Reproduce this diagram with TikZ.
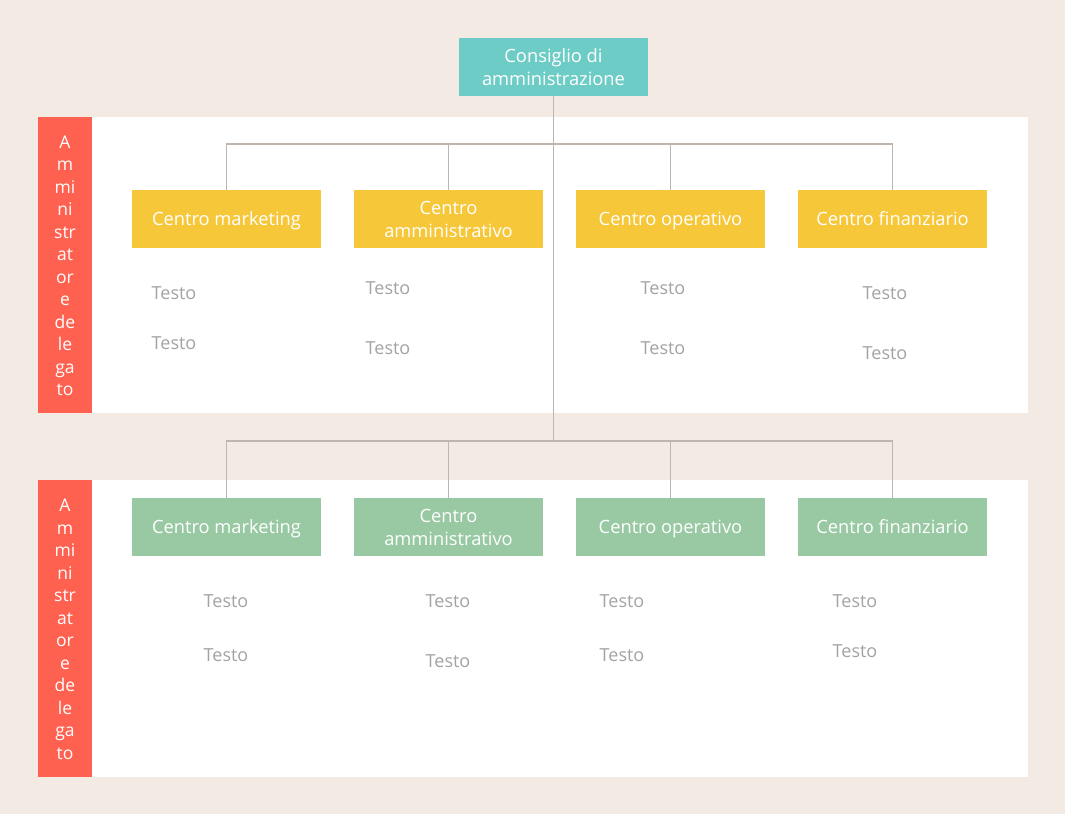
\documentclass[tikz,border=0pt]{standalone}
\usepackage{fontspec}
\setmainfont{Open Sans}
\definecolor{bg}{HTML}{F3EAE4}
\definecolor{redbar}{HTML}{FF6150}
\definecolor{teal}{HTML}{6DCDC6}
\definecolor{yel}{HTML}{F6C739}
\definecolor{grn}{HTML}{98C9A3}
\definecolor{lin}{HTML}{BDB5AE}
\definecolor{txtg}{HTML}{A3A3A3}
\newcommand{\st}{\rule[-4.5pt]{0pt}{22.5pt}}
\tikzset{
  box/.style={minimum width=189pt, minimum height=58pt, inner sep=0pt, text=white, align=center, font=\fontsize{18.3}{22.5}\selectfont},
  yelbox/.style={box, fill=yel},
  grnbox/.style={box, fill=grn},
  conn/.style={draw=lin, line width=1.5pt},
  testo/.style={text=txtg, font=\fontsize{18}{21}\selectfont, inner sep=0pt},
  sidetxt/.style={text=white, align=center, font=\fontsize{17.5}{22.5}\selectfont, inner sep=0pt},
}
\begin{document}
\begin{tikzpicture}[x=1pt,y=-1pt]
\fill[bg] (0,0) rectangle (1065,814);
\useasboundingbox (0,0) rectangle (1065,814);
% panels
\fill[white] (92,117) rectangle (1028,413);
\fill[white] (92,480) rectangle (1028,777);
\fill[redbar] (38,117) rectangle (92,413);
\fill[redbar] (38,480) rectangle (92,777);
\node[sidetxt] (s1) at (65,266) {A\\m\\mi\\ni\\str\\at\\or\\e\\de\\le\\ga\\to};
\node[sidetxt] (s2) at (65,629.5) {A\\m\\mi\\ni\\str\\at\\or\\e\\de\\le\\ga\\to};
% top node
\node[box, fill=teal] (root) at (553.5,67) {\st Consiglio di\\\st amministrazione};
% yellow
\node[yelbox] (y1) at (226.5,219) {\st Centro marketing};
\node[yelbox] (y2) at (448.5,219) {\st Centro\\\st amministrativo};
\node[yelbox] (y3) at (670.5,219) {\st Centro operativo};
\node[yelbox] (y4) at (892.5,219) {\st Centro finanziario};
% green
\node[grnbox] (g1) at (226.5,527) {\st Centro marketing};
\node[grnbox] (g2) at (448.5,527) {\st Centro\\\st amministrativo};
\node[grnbox] (g3) at (670.5,527) {\st Centro operativo};
\node[grnbox] (g4) at (892.5,527) {\st Centro finanziario};
% connectors
\coordinate (h1) at (553.5,144);
\coordinate (h2) at (553.5,441);
\draw[conn] (root.south) -- (h2);
\draw[conn] (y1.north) |- (h1) -| (y4.north);
\draw[conn] (y2.north) -- (y2.north |- h1);
\draw[conn] (y3.north) -- (y3.north |- h1);
\draw[conn] (g1.north) |- (h2) -| (g4.north);
\draw[conn] (g2.north) -- (g2.north |- h2);
\draw[conn] (g3.north) -- (g3.north |- h2);
% texts top
\node[testo] (t1) at (174,293) {Testo};
\node[testo] (t2) at (174,343) {Testo};
\node[testo] (t3) at (388,288) {Testo};
\node[testo] (t4) at (388,348) {Testo};
\node[testo] (t5) at (663,288) {Testo};
\node[testo] (t6) at (663,348) {Testo};
\node[testo] (t7) at (885,293) {Testo};
\node[testo] (t8) at (885,353) {Testo};
% texts bottom
\node[testo] (b1) at (226,601) {Testo};
\node[testo] (b2) at (226,655) {Testo};
\node[testo] (b3) at (448,601) {Testo};
\node[testo] (b4) at (448,661) {Testo};
\node[testo] (b5) at (622,601) {Testo};
\node[testo] (b6) at (622,655) {Testo};
\node[testo] (b7) at (855,601) {Testo};
\node[testo] (b8) at (855,651) {Testo};
\end{tikzpicture}
\end{document}
